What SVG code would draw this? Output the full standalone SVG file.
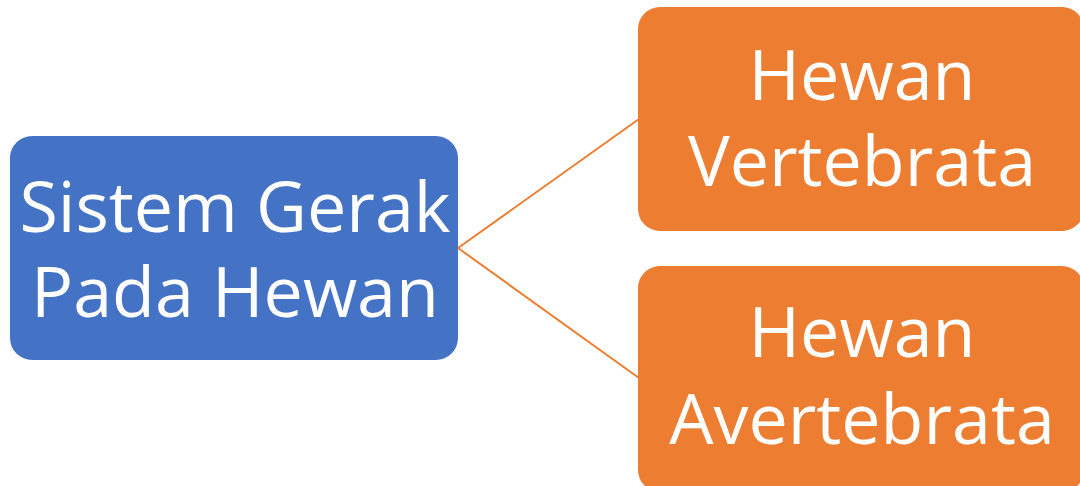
<svg xmlns="http://www.w3.org/2000/svg" width="1080" height="486" viewBox="0 0 1080 486">
<style>
.lbl{font-family:"Open Sans","Noto Sans","Liberation Sans",sans-serif;fill:#ffffff;text-anchor:middle;font-size:70px}
.conn{stroke:#ED7D31;stroke-width:2;fill:none}
</style>
<rect width="1080" height="486" fill="#ffffff"/>
<g id="connectors">
<line class="conn" x1="458" y1="248" x2="639" y2="119"/>
<line class="conn" x1="458" y1="248" x2="639" y2="378"/>
</g>
<g id="root">
<rect x="10" y="136" width="448" height="224" rx="22" fill="#4472C4"/>
<text class="lbl" x="235" y="232">Sistem Gerak</text>
<text class="lbl" x="235" y="317">Pada Hewan</text>
</g>
<g id="vertebrata">
<rect x="638" y="7" width="446" height="224" rx="22" fill="#ED7D31"/>
<text class="lbl" x="862" y="100">Hewan</text>
<text class="lbl" x="862" y="186">Vertebrata</text>
</g>
<g id="avertebrata">
<rect x="638" y="266" width="446" height="226" rx="22" fill="#ED7D31"/>
<text class="lbl" x="862" y="357">Hewan</text>
<text class="lbl" x="862" y="444">Avertebrata</text>
</g>
</svg>
